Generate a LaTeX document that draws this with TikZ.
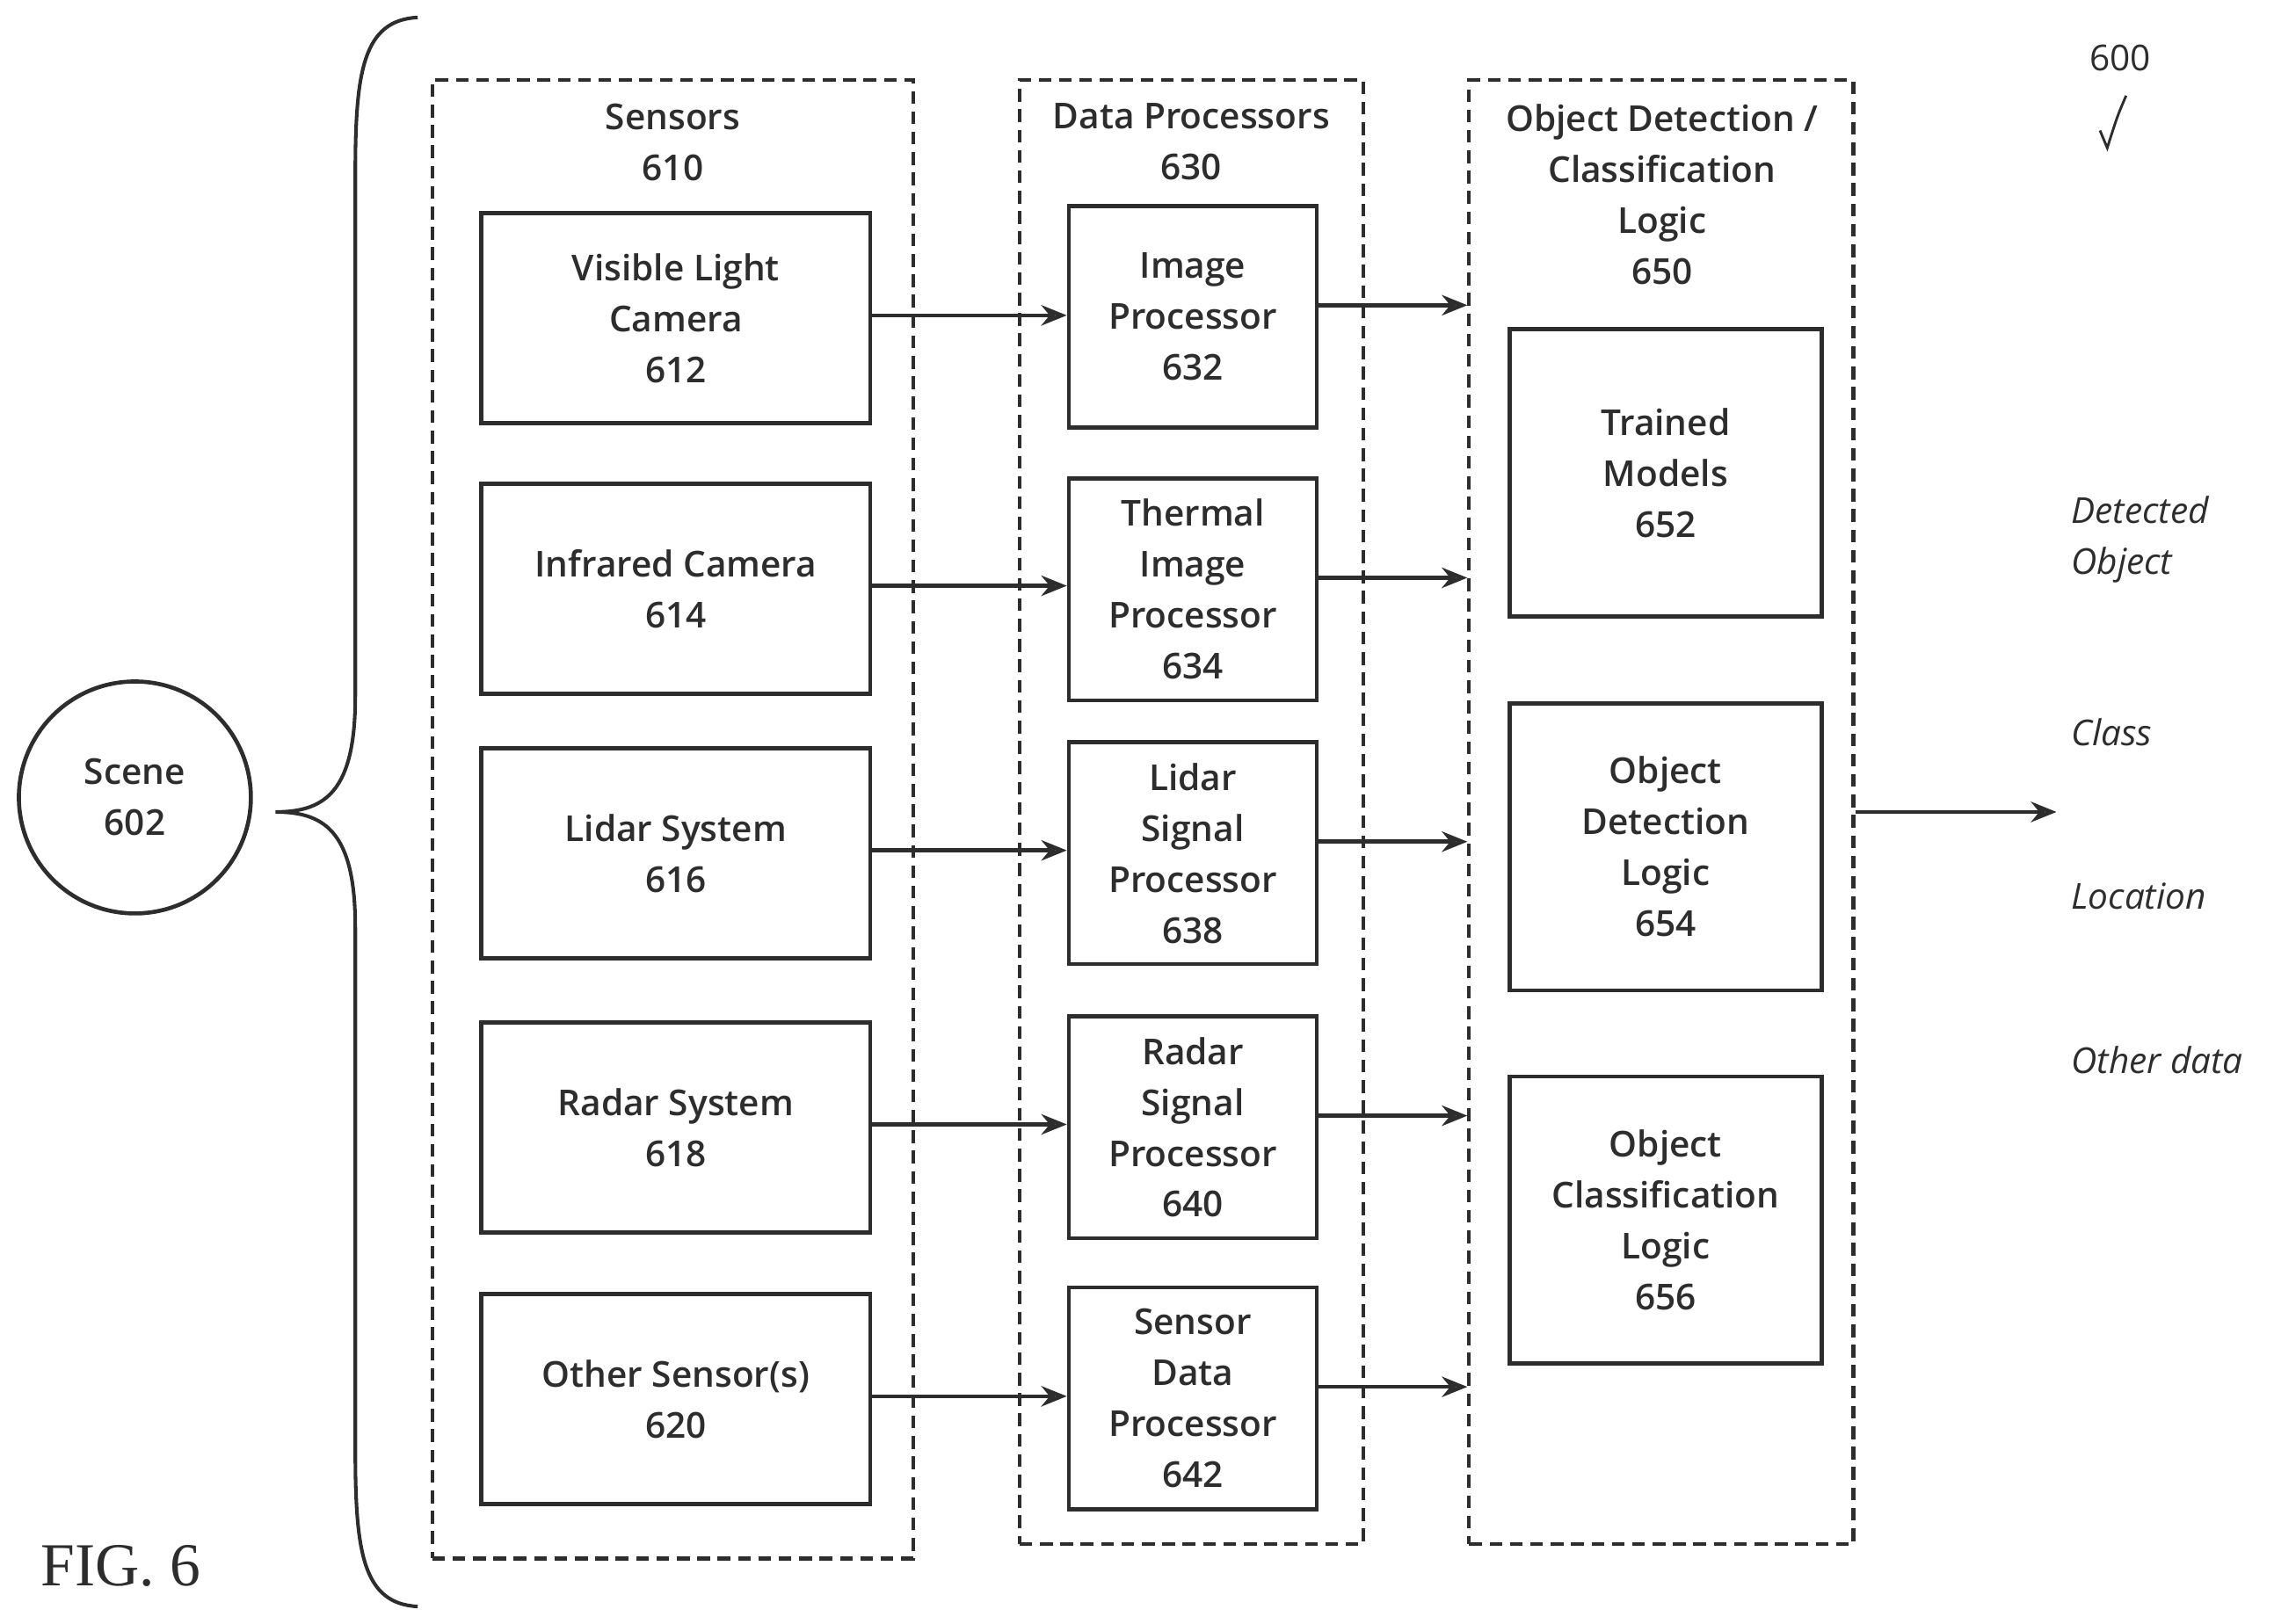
\documentclass[tikz,border=0pt]{standalone}
\usepackage{fontspec}
\setmainfont{Open Sans}[BoldFont={* Semibold}]
\newfontfamily\figfont{Liberation Serif}
\usetikzlibrary{arrows.meta}
\definecolor{ink}{RGB}{45,45,45}
\begin{document}
\begin{tikzpicture}[x=0.02cm,y=-0.02cm,
  every node/.style={font=\fontsize{14}{20}\selectfont\bfseries, text=ink, align=center},
  box/.style={draw=ink, line width=1.6pt, inner sep=0pt},
  sbox/.style={box, minimum width=5.36cm, minimum height=2.9cm},
  pbox/.style={box, minimum width=3.42cm, minimum height=3.06cm},
  obox/.style={box, minimum width=4.3cm, minimum height=3.96cm},
  grp/.style={draw=ink, line width=1.4pt, dash pattern=on 5pt off 3pt, inner sep=0pt},
  arr/.style={draw=ink, line width=1.6pt, -{Stealth[open,length=10pt,width=8pt]}},
  lab/.style={font=\fontsize{14}{20}\selectfont\itshape, align=left, anchor=west}]
\useasboundingbox (0,0) rectangle (1568,1120);
% groups
\node[grp, minimum width=6.64cm, minimum height=20.4cm] (gs) at (464,565) {};
\node[grp, minimum width=4.74cm, minimum height=20.2cm] (gd) at (821.5,560) {};
\node[grp, minimum width=5.3cm, minimum height=20.2cm] (go) at (1145.5,560) {};
\node (ts) at (464,98) {Sensors\\610};
\node (td) at (821.5,98) {Data Processors\\630};
\node (to) at (1146,134) {Object Detection /\\Classification\\Logic\\650};
% scene
\node[draw=ink, line width=1.6pt, circle, minimum size=3.2cm] (scene) at (93,550) {Scene\\602};
\draw[ink, line width=1.4pt] (288,12) .. controls (250,14) and (245,50) .. (245,120) -- (245,480)
  .. controls (245,545) and (225,560) .. (190,560)
  .. controls (225,560) and (245,575) .. (245,640) -- (245,1000)
  .. controls (245,1070) and (250,1106) .. (288,1108);
% sensors
\node[sbox] (s1) at (466,219.5) {Visible Light\\Camera\\612};
\node[sbox] (s2) at (466,406) {Infrared Camera\\614};
\node[sbox] (s3) at (466,588.5) {Lidar System\\616};
\node[sbox] (s4) at (466,777.5) {Radar System\\618};
\node[sbox] (s5) at (466,965) {Other Sensor(s)\\620};
% processors
\node[pbox] (p1) at (822.5,218.5) {Image\\Processor\\632};
\node[pbox] (p2) at (822.5,406.5) {Thermal\\Image\\Processor\\634};
\node[pbox] (p3) at (822.5,588.5) {Lidar\\Signal\\Processor\\638};
\node[pbox] (p4) at (822.5,777.5) {Radar\\Signal\\Processor\\640};
\node[pbox] (p5) at (822.5,964.5) {Sensor\\Data\\Processor\\642};
% logic
\node[obox] (o1) at (1148.5,326) {Trained\\Models\\652};
\node[obox] (o2) at (1148.5,584) {Object\\Detection\\Logic\\654};
\node[obox] (o3) at (1148.5,841.5) {Object\\Classification\\Logic\\656};
% arrows
\foreach \i in {1,...,5}{
  \draw[arr] ([yshift=0.04cm]s\i.east) -- ([yshift=0.04cm]s\i.east -| p\i.west);
  \draw[arr] ([yshift=0.16cm]p\i.east) -- ([yshift=0.16cm]p\i.east -| go.west);
}
\coordinate (out) at (1418,560);
\draw[arr] (go.east |- out) -- (out);
% output labels
\node[lab] (l1) at (1422,372) {Detected\\Object};
\node[lab] (l2) at (1422,505) {Class};
\node[lab] (l3) at (1422,618) {Location};
\node[lab] (l4) at (1422,731) {Other data};
% ref
\node[font=\fontsize{14}{16}\selectfont] (r600) at (1462,40) {600};
\draw[ink, line width=1pt] (1466,66) .. controls (1460,80) .. (1453,102) -- (1448,90);
\node[font=\figfont\fontsize{24}{26}\selectfont, anchor=west] (fig) at (22,1080) {FIG. 6};
\end{tikzpicture}
\end{document}
